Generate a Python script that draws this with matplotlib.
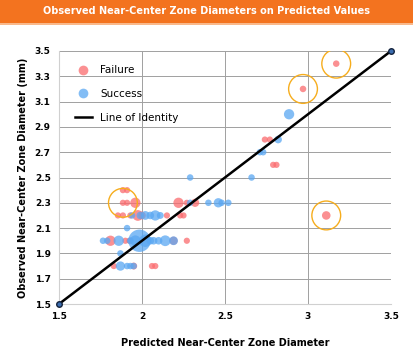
import matplotlib.pyplot as plt
from matplotlib.lines import Line2D
from matplotlib.patches import Rectangle

# failure points: x (predicted), y (observed), marker size
fail_x = [1.885, 1.91, 1.885, 1.91, 1.96, 2.22, 2.27, 2.32,
          1.855, 1.885, 1.93, 1.975, 2.0, 2.15, 2.23, 2.25,
          1.81, 1.90, 1.925, 2.19, 2.27,
          1.83, 1.95, 2.06, 2.08,
          2.74, 2.77, 2.79, 2.81, 2.97, 3.17, 3.11]
fail_y = [2.4, 2.4, 2.3, 2.3, 2.3, 2.3, 2.3, 2.3,
          2.2, 2.2, 2.2, 2.2, 2.2, 2.2, 2.2, 2.2,
          2.0, 2.0, 2.0, 2.0, 2.0,
          1.8, 1.8, 1.8, 1.8,
          2.8, 2.8, 2.6, 2.6, 3.2, 3.4, 2.2]
fail_s = [20, 20, 20, 20, 55, 55, 20, 35,
          20, 20, 20, 60, 30, 20, 20, 20,
          55, 20, 20, 35, 20,
          20, 25, 20, 20,
          20, 20, 20, 20, 22, 22, 38]

# success points
succ_x = [2.29, 2.66, 1.91, 1.87,
          2.29, 2.40, 2.46, 2.48, 2.52,
          1.94, 1.99, 2.02, 2.05, 2.08, 2.11,
          1.765, 1.79, 1.86, 1.93, 1.96, 1.985, 2.02, 2.05, 2.07, 2.10, 2.14, 2.19,
          1.87, 1.91, 1.93, 1.95,
          2.886, 2.82, 2.71, 2.73]
succ_y = [2.5, 2.5, 2.1, 1.9,
          2.3, 2.3, 2.3, 2.3, 2.3,
          2.2, 2.2, 2.2, 2.2, 2.2, 2.2,
          2.0, 2.0, 2.0, 2.0, 2.0, 2.0, 2.0, 2.0, 2.0, 2.0, 2.0, 2.0,
          1.8, 1.8, 1.8, 1.8,
          3.0, 2.8, 2.7, 2.7]
succ_s = [22, 22, 22, 22,
          22, 22, 45, 22, 22,
          22, 30, 40, 30, 55, 25,
          22, 22, 55, 25, 60, 260, 80, 30, 30, 30, 60, 40,
          45, 22, 22, 22,
          55, 30, 22, 22]

# highlighted outliers
hl_x = [1.885, 2.97, 3.17, 3.11]
hl_y = [2.3, 3.2, 3.4, 2.2]

fig = plt.figure(figsize=(4.14, 3.60), dpi=100)
fig.patches.append(Rectangle((0, 1 - 23 / 360), 1, 23 / 360, transform=fig.transFigure,
                             facecolor='#f3731f', edgecolor='none', zorder=0))
fig.patches.append(Rectangle((0, 1 - 25 / 360), 1, 2 / 360, transform=fig.transFigure,
                             facecolor='#f9b98c', edgecolor='none', zorder=0))
fig.text(0.5, 1 - 11.5 / 360, 'Observed Near-Center Zone Diameters on Predicted Values',
         ha='center', va='center', color='white', fontsize=7.0, fontweight='bold')

ax = fig.add_axes([59 / 414, 1 - 304 / 360, 332 / 414, 253 / 360])

red = '#fa6b6e'
blue = '#5aa7f2'
ax.scatter(fail_x, fail_y, s=fail_s, color=red, alpha=0.75, linewidths=0, zorder=3)
ax.scatter(succ_x, succ_y, s=succ_s, color=blue, alpha=0.75, linewidths=0, zorder=3)
ax.scatter(hl_x, hl_y, s=430, facecolors='none', edgecolors='#f6ad1d', linewidths=1.0, zorder=4)

ax.plot([1.5, 3.5], [1.5, 3.5], color='black', lw=1.8, zorder=5)
ax.plot([1.5, 3.5], [1.5, 3.5], ls='none', marker='o', ms=4, mfc='#3b6db0',
        mec='#14233d', mew=1.0, zorder=6, clip_on=False)

ax.set_xlim(1.5, 3.5)
ax.set_ylim(1.5, 3.5)
ax.set_xticks([1.5, 2, 2.5, 3, 3.5])
ax.set_xticklabels(['1.5', '2', '2.5', '3', '3.5'])
ax.set_yticks([1.5, 1.7, 1.9, 2.1, 2.3, 2.5, 2.7, 2.9, 3.1, 3.3, 3.5])
ax.grid(True, color='#a0a0a0', lw=0.7)
ax.set_axisbelow(True)
for sp in ax.spines.values():
    sp.set_visible(False)
ax.spines['left'].set_visible(True)
ax.spines['bottom'].set_visible(True)
ax.spines['left'].set_color('#d0d0d0')
ax.spines['bottom'].set_color('#d0d0d0')
ax.tick_params(length=0, labelsize=6.5, pad=6)
for lab in ax.get_xticklabels() + ax.get_yticklabels():
    lab.set_fontweight('bold')

ax.set_xlabel('Predicted Near-Center Zone Diameter', fontsize=7, fontweight='bold', labelpad=12)
ax.set_ylabel('Observed Near-Center Zone Diameter (mm)', fontsize=7, fontweight='bold', labelpad=5)

handles = [Line2D([], [], ls='none', marker='o', ms=7, mfc=red, mec='none', alpha=0.75),
           Line2D([], [], ls='none', marker='o', ms=7, mfc=blue, mec='none', alpha=0.75),
           Line2D([], [], color='black', lw=1.8)]
ax.legend(handles, ['Failure', 'Success', 'Line of Identity'], loc='upper left',
          bbox_to_anchor=(0.02, 0.98), frameon=False, fontsize=7.5, labelspacing=1.3,
          handlelength=1.6, handletextpad=0.8)

plt.savefig('out.png', dpi=100)
